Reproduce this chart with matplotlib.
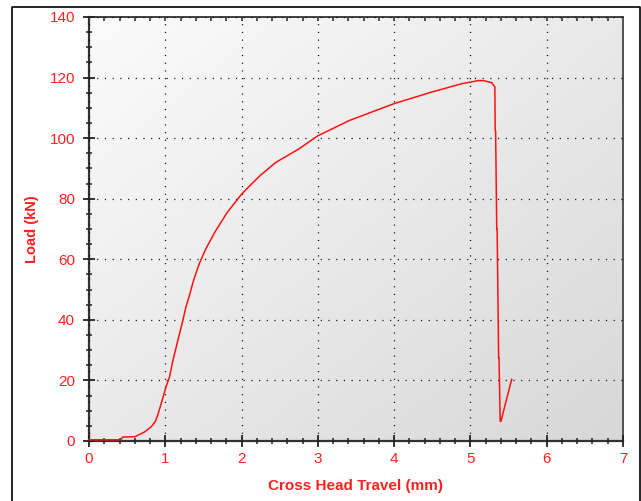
import numpy as np
import matplotlib
matplotlib.use("Agg")
import matplotlib.pyplot as plt
from matplotlib.lines import Line2D
from matplotlib.ticker import MultipleLocator, NullFormatter

# Data
travel_mm = [0.0, 0.20, 0.42, 0.44, 0.60, 0.73, 0.82, 0.87, 0.90, 0.96, 1.01,
             1.056, 1.10, 1.143, 1.186, 1.23, 1.27, 1.316, 1.37, 1.445, 1.53,
             1.66, 1.81, 2.0, 2.12, 2.25, 2.45, 2.755, 2.995, 3.41, 4.0, 4.49,
             4.89, 5.0, 5.1, 5.17, 5.28, 5.32, 5.325, 5.33, 5.345, 5.35, 5.37,
             5.375, 5.39, 5.40, 5.54]
load_kn = [0.4, 0.4, 0.4, 1.3, 1.4, 3.0, 4.8, 6.5, 8.5, 13.5, 17.9,
           21.2, 26.6, 31.0, 35.4, 39.8, 44.2, 48.0, 53.0, 58.5, 63.4,
           69.4, 75.4, 81.5, 84.6, 87.8, 92.0, 96.5, 100.7, 105.8, 111.4, 115.2,
           118.0, 118.5, 119.0, 119.0, 118.3, 116.9, 102.5, 102.5, 70.0, 70.0, 27.5,
           27.5, 6.5, 6.5, 20.3]

x_ticks = [0, 1, 2, 3, 4, 5, 6, 7]
y_ticks = [0, 20, 40, 60, 80, 100, 120, 140]

RED = "#ff2020"
plt.rcParams['font.family'] = ['Liberation Sans', 'DejaVu Sans']
plt.rcParams['lines.scale_dashes'] = False

W, H = 641, 501
fig = plt.figure(figsize=(W / 100, H / 100), dpi=100)
fig.patch.set_facecolor("white")

left, right, top, bottom = 89, 623, 17, 441
ax = fig.add_axes([left / W, 1 - bottom / H, (right - left) / W, (bottom - top) / H])
ax.set_xlim(0, 7)
ax.set_ylim(0, 140)

# gradient background: light top-left, darker bottom-right
gx, gy = np.meshgrid(np.linspace(0, 1, 200), np.linspace(0, 1, 200))
g = (gx + gy) / 2.0  # row 0 is the top (origin upper)
col = 0.985 - 0.14 * g
ax.imshow(np.dstack([col, col, col]), extent=[0, 7, 0, 140], origin="upper",
          aspect="auto", zorder=0, interpolation="bilinear")

ax.set_xticks(x_ticks)
ax.set_yticks(y_ticks)
ax.xaxis.set_minor_locator(MultipleLocator(0.2))
ax.yaxis.set_minor_locator(MultipleLocator(5))

ax.grid(True, which="major", color="black", linestyle=(0, (0.8, 4.75)), linewidth=0.9)
ax.set_axisbelow(False)

for s in ["left", "bottom"]:
    ax.spines[s].set_color("#333333")
    ax.spines[s].set_linewidth(1.6)
for s in ["top", "right"]:
    ax.spines[s].set_color("#444444")
    ax.spines[s].set_linewidth(1.3)

ax.tick_params(axis="both", which="major", direction="inout", length=8, width=1.3,
               color="#222222", labelcolor=RED, labelsize=11)
ax.tick_params(axis="both", which="minor", direction="inout", length=5, width=1.1,
               color="#222222")
ax.tick_params(axis="x", which="major", pad=4)
ax.tick_params(axis="y", which="major", pad=6)

# top axis: small inward ticks only
sec = ax.secondary_xaxis("top")
sec.set_xticks(np.arange(0.2, 7.0, 0.2).round(1).tolist())
sec.xaxis.set_major_formatter(NullFormatter())
sec.tick_params(axis="x", direction="in", length=3, width=1.1, color="#222222")
sec.spines["top"].set_color("#444444")
sec.spines["top"].set_linewidth(1.3)

ax.plot(travel_mm, load_kn, color="#ff1010", linewidth=1.1, zorder=5, clip_on=False)

ax.set_xlabel("Cross Head Travel (mm)", color=RED, fontsize=11, fontweight="bold", labelpad=9)
ax.set_ylabel("Load (kN)", color=RED, fontsize=10.5, fontweight="bold", labelpad=7.5)

# outer frame
fig.add_artist(Line2D([12 / W, 12 / W, 639.5 / W, 639.5 / W],
                      [0, 1 - 6.5 / H, 1 - 6.5 / H, 0],
                      transform=fig.transFigure, color="black", linewidth=1.2))

fig.savefig("out.png", dpi=100)
